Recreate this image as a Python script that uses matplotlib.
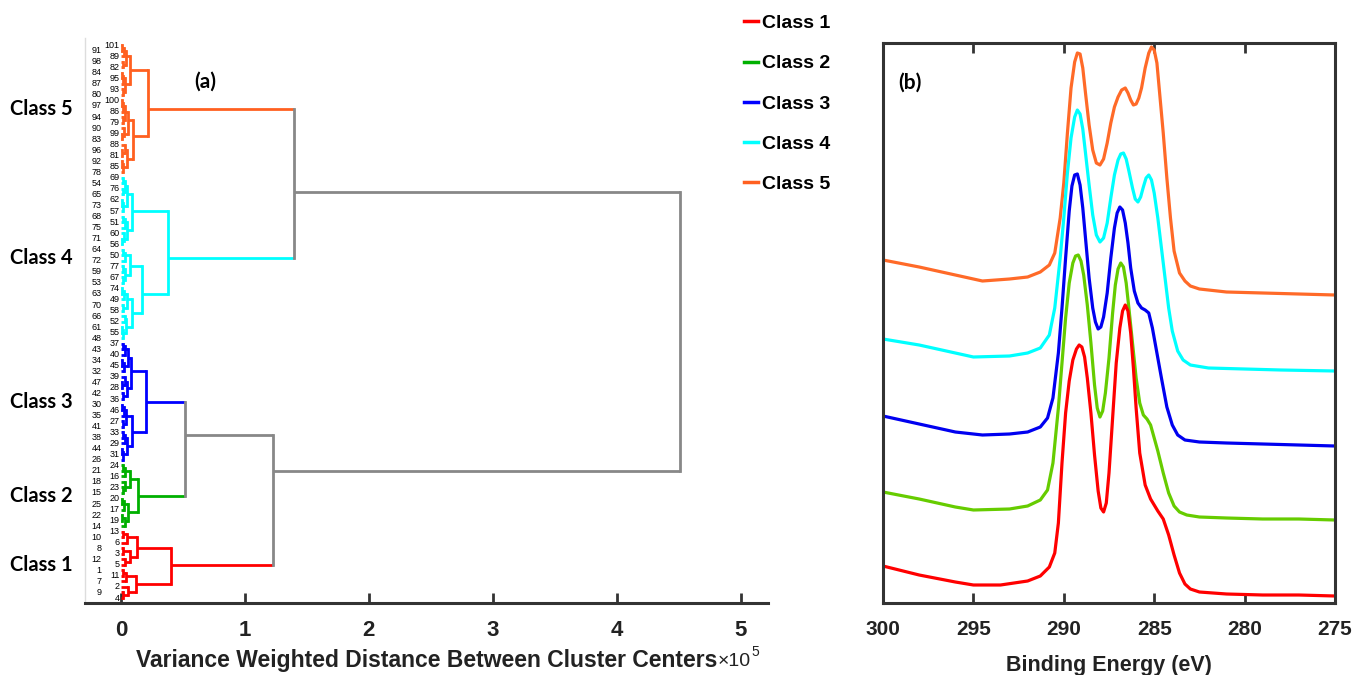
import numpy as np
import matplotlib
matplotlib.use("Agg")
import matplotlib.pyplot as plt
from matplotlib import font_manager
from matplotlib.lines import Line2D
from matplotlib import transforms

# ---------------- data ----------------
class_names = ["Class 1", "Class 2", "Class 3", "Class 4", "Class 5"]
tree_colours = ["#ff0000", "#00b000", "#0000ff", "#00ffff", "#ff6020"]
spec_colours = ["#ff0000", "#66cc00", "#0000f0", "#00ffff", "#ff6a28"]
link_grey = "#888888"

# dendrogram: leaf = sample number, node = [height (x1e5), lower child, upper child]
c1 = [0.40,
      [0.12, [0.06, [0.02, 4, 9], 2], [0.04, 7, [0.015, 11, 1]]],
      [0.13, [0.07, [0.03, 5, 12], [0.02, 3, 8]], [0.05, 6, [0.02, 10, 13]]]]
c2 = [0.14,
      [0.06, [0.03, 14, [0.01, 19, 22]], [0.025, 17, [0.012, 25, 20]]],
      [0.07, [0.035, [0.015, 15, 23], 18], [0.03, 16, [0.02, 21, 24]]]]
c3 = [0.20,
      [0.09, [0.05, [0.02, 26, [0.01, 31, 44]], [0.03, 29, [0.015, 38, 33]]],
             [0.04, [0.02, 41, 27], [0.025, 35, [0.01, 46, 30]]]],
      [0.08, [0.045, [0.02, 36, 42], [0.03, [0.012, 28, 47], 39]],
             [0.06, [0.025, 32, [0.01, 45, 34]], [0.035, 40, [0.015, 43, 37]]]]]
c4 = [0.38,
      [0.17,
       [0.09, [0.04, [0.02, 48, [0.01, 55, 61]], [0.03, 52, 66]],
              [0.05, [0.02, 58, 70], [0.025, 49, [0.012, 63, 74]]]],
       [0.07, [0.035, [0.015, 53, 67], [0.02, 59, 77]], [0.03, 72, [0.015, 50, 64]]]],
      [0.09, [0.05, [0.025, [0.01, 56, 71], 60], [0.03, 75, [0.015, 51, 68]]],
             [0.045, [0.02, 57, [0.01, 73, 62]], [0.03, [0.015, 65, 76], [0.02, 54, 69]]]]]
c5 = [0.22,
      [0.10, [0.05, [0.02, 78, [0.01, 85, 92]], [0.03, [0.012, 81, 96], 88]],
             [0.06, [0.025, [0.01, 83, 99], 90], [0.035, [0.015, 79, 94], [0.02, 86, [0.008, 97, 100]]]]],
      [0.07, [0.03, [0.015, 80, 93], [0.02, 87, [0.01, 95, 84]]],
             [0.04, [0.02, 82, 98], [0.025, 89, [0.012, 91, 101]]]]]
class_trees = [c1, c2, c3, c4, c5]
top_tree = [4.51, [1.23, c1, [0.52, c2, c3]], [1.40, c4, c5]]

# XPS C 1s spectra (binding energy eV, intensity a.u. incl. offset)
E1 = [300, 298, 296, 295, 293.5, 292, 291.3, 290.8, 290.5, 290.3, 290.1, 289.9, 289.7, 289.5, 289.3, 289.15,
      289.0, 288.85, 288.7, 288.5, 288.3, 288.1, 287.95, 287.8, 287.65, 287.5, 287.3, 287.1, 286.9, 286.75,
      286.6, 286.45, 286.3, 286.15, 286.0, 285.8, 285.5, 285.2, 284.8, 284.5, 284.2, 283.9, 283.6, 283.3,
      283.0, 282.5, 281, 279, 277, 275]
I1 = [37, 28, 21, 18, 18, 22, 27, 36, 50, 80, 140, 190, 222, 243, 254, 258, 256, 246, 225, 190, 148, 112, 95,
      91, 100, 130, 185, 240, 275, 292, 298, 292, 270, 235, 195, 150, 118, 104, 92, 84, 68, 48, 30, 19, 14,
      11, 9, 8, 8, 7]
E2 = [300, 298, 296, 295, 293, 292, 291.3, 290.9, 290.6, 290.3, 290.1, 289.9, 289.7, 289.5, 289.35, 289.2,
      289.05, 288.9, 288.7, 288.5, 288.3, 288.15, 288.0, 287.85, 287.7, 287.5, 287.3, 287.15, 287.0, 286.85,
      286.7, 286.55, 286.4, 286.2, 286.0, 285.8, 285.6, 285.4, 285.2, 285.0, 284.8, 284.5, 284.2, 283.9,
      283.6, 283.2, 282.5, 281, 279, 277, 275]
I2 = [111, 104, 96, 93, 94, 97, 103, 113, 140, 195, 240, 285, 320, 340, 347, 348, 342, 328, 298, 260, 218,
      195, 186, 192, 210, 245, 290, 318, 334, 340, 336, 320, 295, 260, 225, 200, 188, 184, 178, 165, 152,
      130, 110, 97, 91, 88, 86, 85, 84, 84, 83]
E3 = [300, 298, 296, 294.5, 293, 292, 291.3, 290.9, 290.6, 290.3, 290.1, 289.9, 289.7, 289.55, 289.4, 289.25,
      289.1, 288.95, 288.8, 288.6, 288.4, 288.25, 288.1, 287.95, 287.8, 287.6, 287.4, 287.2, 287.05, 286.9,
      286.75, 286.6, 286.45, 286.3, 286.1, 285.9, 285.7, 285.5, 285.3, 285.1, 284.9, 284.6, 284.3, 284.0,
      283.7, 283.3, 282.5, 281, 279, 277, 275]
I3 = [187, 179, 171, 168, 169, 171, 176, 185, 205, 250, 295, 345, 392, 417, 428, 429, 418, 395, 365, 325, 295,
      281, 274, 276, 286, 310, 345, 375, 390, 396, 393, 380, 360, 335, 312, 300, 295, 293, 290, 275, 255,
      225, 196, 178, 168, 163, 161, 160, 159, 158, 157]
E4 = [300, 298, 296, 295, 293, 292, 291.3, 290.8, 290.5, 290.2, 290.0, 289.8, 289.6, 289.4, 289.25, 289.1,
      288.95, 288.8, 288.6, 288.4, 288.2, 288.0, 287.8, 287.6, 287.4, 287.2, 287.0, 286.85, 286.7, 286.55,
      286.4, 286.2, 286.05, 285.9, 285.75, 285.6, 285.45, 285.3, 285.15, 285.0, 284.8, 284.6, 284.4, 284.2,
      284.0, 283.7, 283.4, 283.0, 282, 280, 278, 275]
I4 = [264, 258, 250, 246, 247, 250, 255, 268, 295, 345, 385, 430, 465, 486, 493, 489, 474, 450, 418, 388, 368,
      361, 365, 380, 405, 428, 443, 449, 450, 444, 432, 415, 404, 401, 406, 416, 425, 428, 423, 410, 385,
      355, 325, 295, 272, 252, 243, 238, 235, 234, 233, 232]
E5 = [300, 298, 296, 294.5, 293, 292, 291.3, 290.8, 290.5, 290.2, 290.0, 289.8, 289.6, 289.4, 289.25, 289.1,
      288.95, 288.8, 288.6, 288.4, 288.2, 288.0, 287.8, 287.6, 287.4, 287.2, 287.0, 286.8, 286.6, 286.45,
      286.3, 286.15, 286.0, 285.85, 285.7, 285.5, 285.3, 285.15, 285.0, 284.85, 284.7, 284.5, 284.3, 284.1,
      283.9, 283.6, 283.3, 283.0, 282.5, 281, 279, 277, 275]
I5 = [343, 336, 328, 322, 324, 326, 331, 338, 350, 385, 420, 470, 515, 541, 550, 549, 535, 510, 478, 453, 440,
      438, 444, 460, 480, 496, 506, 513, 515, 510, 503, 498, 499, 505, 515, 535, 550, 556, 553, 540, 510,
      470, 425, 385, 352, 330, 322, 317, 314, 311, 310, 309, 308]
spectra_E = [E1, E2, E3, E4, E5]
spectra_I = [I1, I2, I3, I4, I5]

dist_ticks = [0, 1, 2, 3, 4, 5]
be_ticks = [300, 295, 290, 285, 280, 275]

# ---------------- fonts ----------------
names = {f.name for f in font_manager.fontManager.ttflist}
narrow = "Liberation Sans Narrow" if "Liberation Sans Narrow" in names else "Liberation Sans"
plt.rcParams["font.family"] = ["Liberation Sans", "DejaVu Sans"]

W, H = 1356, 675
fig = plt.figure(figsize=(W / 100, H / 100), dpi=100)

# ---------------- (a) dendrogram ----------------
ax1 = fig.add_axes([85 / W, 1 - 603 / H, (768 - 85) / W, (603 - 38) / H])

def leaf_order(node):
    if isinstance(node, int):
        return [node]
    return leaf_order(node[1]) + leaf_order(node[2])

order = leaf_order(top_tree)
pos = {lab: i + 1 for i, lab in enumerate(order)}
node_colour = {id(t): c for t, c in zip(class_trees, tree_colours)}
LW = 2.0

def draw(node, colour):
    if isinstance(node, int):
        return pos[node], 0.0, colour, [pos[node]]
    h, a, b = node
    c = node_colour.get(id(node), colour)
    ya, ha, ca, la = draw(a, c)
    yb, hb, cb, lb = draw(b, c)
    ax1.plot([ha, h], [ya, ya], color=ca, lw=LW, solid_capstyle="butt")
    ax1.plot([hb, h], [yb, yb], color=cb, lw=LW, solid_capstyle="butt")
    ax1.plot([h, h], [ya, yb], color=c, lw=LW, solid_capstyle="projecting")
    leaves = la + lb
    return float(np.mean(leaves)), h, c, leaves

draw(top_tree, link_grey)

# leaf numbers, staggered in two columns so they stay readable
for i, lab in enumerate(order):
    xl = -0.01 if i % 2 == 0 else -0.155
    ax1.text(xl, pos[lab], str(lab), ha="right", va="center", fontsize=6.5,
             color="black")

ax1.set_xlim(-0.29, 5.22)
ax1.set_ylim(0.1, 102.3)
ax1.set_xticks(dist_ticks)
ax1.set_xticklabels([str(t) for t in dist_ticks], family=narrow, fontweight="bold",
                    fontsize=16, color="#222222")
ax1.set_yticks([])
ax1.tick_params(axis="x", direction="in", length=7, width=2, color="#333333", pad=12)
for s in ["top", "right"]:
    ax1.spines[s].set_visible(False)
ax1.spines["left"].set_color("#dddddd")
ax1.spines["left"].set_linewidth(1)
ax1.spines["bottom"].set_color("#333333")
ax1.spines["bottom"].set_linewidth(2.2)
ax1.set_xlabel("Variance Weighted Distance Between Cluster Centers", family=narrow,
               fontweight="bold", fontsize=16.5, color="#222222", labelpad=6)
fig.text(718 / W, 1 - 662 / H, "\u00d710", fontsize=14, family=narrow, color="#222222", va="center")
fig.text(751 / W, 1 - 652 / H, "5", fontsize=10, family=narrow, color="#222222", va="center")

# class labels next to the dendrogram
blend = transforms.blended_transform_factory(fig.transFigure, ax1.transData)
for t, name in zip(class_trees, class_names):
    yc = np.mean([pos[l] for l in leaf_order(t)])
    ax1.text(10 / W, yc, name, transform=blend, ha="left", va="center", fontsize=14.5,
             fontweight="bold", family="Lato", color="black")

fig.text(205 / W, 1 - 82 / H, "(a)", fontsize=15, fontweight="bold", family="Lato",
         ha="center", va="center")

# legend
handles = [Line2D([], [], color=c, lw=2.5) for c in tree_colours]
fig.legend(handles, class_names, loc="upper left", bbox_to_anchor=(732 / W, 1 - 3 / H),
           frameon=False, handlelength=0.75, handletextpad=0.2, labelspacing=1.16,
           borderpad=0.1, prop={"weight": "bold", "size": 14})

# ---------------- (b) XPS spectra ----------------
ax2 = fig.add_axes([883 / W, 1 - 603 / H, (1335 - 883) / W, (603 - 43) / H])
for k in range(4, -1, -1):
    ax2.plot(spectra_E[k], spectra_I[k], color=spec_colours[k], lw=2.3)
ax2.set_xlim(300, 275)
ax2.set_ylim(0, 560)
ax2.set_xticks(be_ticks)
ax2.set_xticklabels([str(t) for t in be_ticks], fontsize=15, fontweight="bold", color="#222222")
ax2.set_yticks([])
ax2.tick_params(axis="x", direction="in", top=True, length=7, width=2, color="#333333", pad=12)
for s in ax2.spines.values():
    s.set_color("#333333")
    s.set_linewidth(2.2)
ax2.set_xlabel("Binding Energy (eV)", fontsize=15.5, fontweight="bold", color="#222222", labelpad=12)
ax2.text(0.06, 0.93, "(b)", transform=ax2.transAxes, fontsize=15, fontweight="bold",
         family="Lato", ha="center", va="center")

fig.savefig("out.png", dpi=100)
